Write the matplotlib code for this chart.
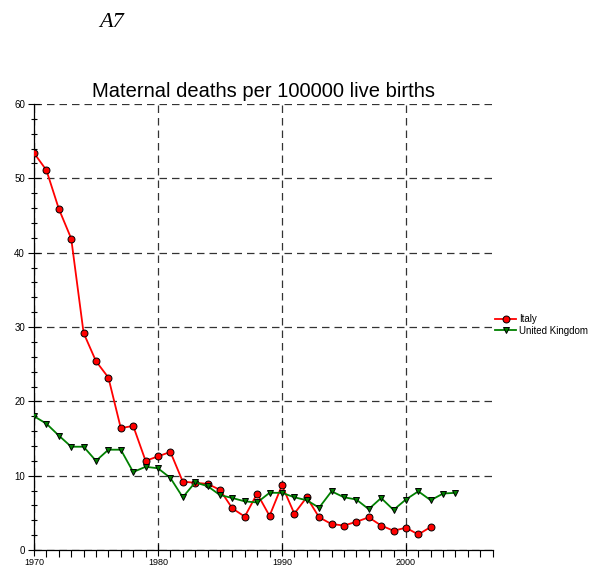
import matplotlib.pyplot as plt
from matplotlib.ticker import MultipleLocator

plt.rcParams['font.family'] = ['Liberation Sans', 'DejaVu Sans']

# data
italy_years = list(range(1970, 2003))
italy_vals = [53.4, 51.1, 45.9, 41.9, 29.2, 25.4, 23.2, 16.4, 16.7, 12.0,
              12.6, 13.2, 9.2, 9.05, 8.9, 8.1, 5.6, 4.5, 7.6, 4.6,
              8.7, 4.9, 7.1, 4.4, 3.5, 3.3, 3.8, 4.4, 3.3, 2.6,
              3.0, 2.1, 3.1]
uk_years = list(range(1970, 2005))
uk_vals = [18.0, 17.0, 15.4, 13.9, 13.9, 12.0, 13.5, 13.5, 10.5, 11.2,
           11.0, 9.7, 7.1, 9.1, 8.6, 7.4, 7.0, 6.55, 6.4, 7.7,
           7.7, 7.1, 6.7, 5.7, 7.9, 7.1, 6.8, 5.5, 7.0, 5.4,
           6.8, 7.9, 6.7, 7.6, 7.7]
x_ticks = [1970, 1980, 1990, 2000]
y_ticks = [0, 10, 20, 30, 40, 50, 60]

fig = plt.figure(figsize=(5.99, 5.70), dpi=100)
ax = fig.add_axes([0.0568, 0.035, 0.7657, 0.7825])

ax.plot(italy_years, italy_vals, color='red', lw=1.3, marker='o', ms=5,
        mfc='red', mec='black', mew=0.7, label='Italy', zorder=3)
ax.plot(uk_years, uk_vals, color='#008000', lw=1.3, marker='v', ms=5,
        mfc='#008000', mec='black', mew=0.7, label='United Kingdom', zorder=3)

ax.set_xlim(1970, 2007)
ax.set_ylim(0, 60)
ax.set_xticks(x_ticks)
ax.set_yticks(y_ticks)
ax.xaxis.set_minor_locator(MultipleLocator(1))
ax.yaxis.set_minor_locator(MultipleLocator(2))
ax.tick_params(which='major', direction='inout', length=9, width=0.8, labelsize=7, pad=2)
ax.tick_params(which='minor', direction='inout', length=5, width=0.8)
ax.tick_params(axis='x', which='minor', direction='out', length=5)
ax.tick_params(axis='x', which='major', pad=1, labelsize=6.5)

for s in ['top', 'right']:
    ax.spines[s].set_visible(False)
for s in ['left', 'bottom']:
    ax.spines[s].set_linewidth(0.9)

ax.grid(True, which='major', color='#333333', linestyle=(0, (6, 4)), lw=0.9)
ax.set_axisbelow(True)

ax.set_title('Maternal deaths per 100000 live births', fontsize=14.5, pad=5)
fig.text(0.165, 0.96, 'A7', fontsize=16, family='Liberation Serif',
         style='italic', ha='left', va='center')

ax.legend(loc='center left', bbox_to_anchor=(0.818, 0.43), bbox_transform=fig.transFigure,
          frameon=False, fontsize=7, handlelength=2.2, handletextpad=0.3,
          labelspacing=0.2, borderpad=0)

fig.savefig('out.png', dpi=100)
